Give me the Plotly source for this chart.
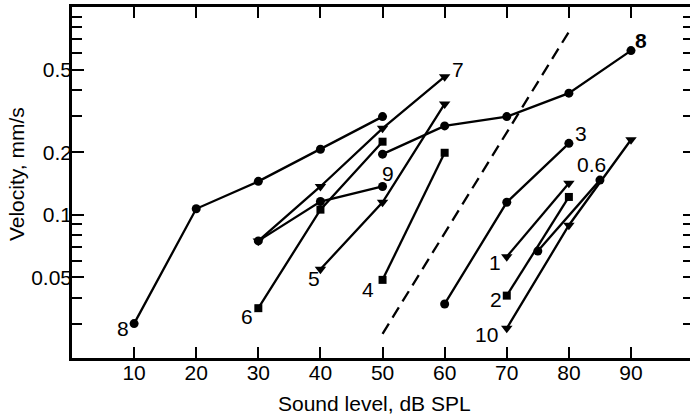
import math
import plotly.graph_objects as go

# ---- data ----
s8a_x = [10, 20, 30, 40, 50]
s8a_y = [0.030, 0.107, 0.145, 0.207, 0.297]
s7_x = [30, 40, 50, 60]
s7_y = [0.075, 0.137, 0.261, 0.462]
s9_x = [30, 40, 50]
s9_y = [0.075, 0.116, 0.137]
s6_x = [30, 40, 50]
s6_y = [0.0356, 0.106, 0.225]
s5_x = [40, 50, 60]
s5_y = [0.0548, 0.115, 0.342]
s4_x = [50, 60]
s4_y = [0.0487, 0.199]
s8b_x = [50, 60, 70, 80, 90]
s8b_y = [0.196, 0.268, 0.297, 0.385, 0.617]
s3_x = [60, 70, 80]
s3_y = [0.0373, 0.115, 0.221]
s1_x = [70, 80]
s1_y = [0.063, 0.142]
s2_x = [70, 80]
s2_y = [0.0409, 0.122]
s06_x = [75, 85]
s06_y = [0.0670, 0.147]
s10_x = [70, 80, 90]
s10_y = [0.0285, 0.0892, 0.23]
dash_x = [50, 80]
dash_y = [0.0268, 0.76]

x_ticks = [10, 20, 30, 40, 50, 60, 70, 80, 90]
y_ticks = [0.05, 0.1, 0.2, 0.5]
y_ticktext = ["0.05", "0.1", "0.2", "0.5"]
y_minor = [0.03, 0.04, 0.06, 0.07, 0.08, 0.09, 0.3, 0.4, 0.6, 0.7, 0.8, 0.9]

FONT = "Liberation Sans, Arial, Helvetica, sans-serif"
BLACK = "black"
FS = 21

series = [
    (s8a_x, s8a_y, "circle"),
    (s7_x, s7_y, "triangle-down"),
    (s9_x, s9_y, "circle"),
    (s6_x, s6_y, "square"),
    (s5_x, s5_y, "triangle-down"),
    (s4_x, s4_y, "square"),
    (s8b_x, s8b_y, "circle"),
    (s3_x, s3_y, "circle"),
    (s1_x, s1_y, "triangle-down"),
    (s2_x, s2_y, "square"),
    (s06_x, s06_y, "circle"),
    (s10_x, s10_y, "triangle-down"),
]

fig = go.Figure()
for xs, ys, sym in series:
    size = {"circle": 9, "square": 8, "triangle-down": 10}[sym]
    fig.add_trace(go.Scatter(
        x=xs, y=ys, mode="lines+markers",
        line=dict(color=BLACK, width=2.3),
        marker=dict(symbol=sym, size=size, color=BLACK, line=dict(width=0)),
        showlegend=False, hoverinfo="skip"))

fig.add_trace(go.Scatter(
    x=dash_x, y=dash_y, mode="lines",
    line=dict(color=BLACK, width=2.3, dash="12px,7px"),
    showlegend=False, hoverinfo="skip"))

# helper axes: right-hand tick marks, and tick labels placed close to the axes
fig.add_trace(go.Scatter(x=[None], y=[None], yaxis="y2", showlegend=False))
fig.add_trace(go.Scatter(x=[None], y=[None], yaxis="y3", showlegend=False))
fig.add_trace(go.Scatter(x=[None], y=[None], xaxis="x2", showlegend=False))

labels = [
    ("8", 8.2, 0.0283, False),
    ("6", 28.1, 0.0324, False),
    ("5", 38.9, 0.0497, False),
    ("4", 47.7, 0.044, False),
    ("9", 50.9, 0.158, False),
    ("7", 62.1, 0.50, False),
    ("1", 68.1, 0.059, False),
    ("2", 68.3, 0.039, False),
    ("10", 66.8, 0.0265, False),
    ("3", 81.9, 0.247, False),
    ("0.6", 83.7, 0.174, False),
    ("8", 91.6, 0.693, True),
]
annotations = []
for txt, lx, ly, bold in labels:
    annotations.append(dict(
        x=lx, y=math.log10(ly), xref="x", yref="y",
        text=f"<b>{txt}</b>" if bold else txt, showarrow=False,
        font=dict(family=FONT, size=FS, color=BLACK),
        xanchor="center", yanchor="middle"))

annotations.append(dict(
    x=-0.0906, y=0.524, xref="paper", yref="paper",
    text="Velocity, mm/s", textangle=-90, showarrow=False,
    font=dict(family=FONT, size=FS, color=BLACK),
    xanchor="center", yanchor="middle"))
annotations.append(dict(
    x=0.490, y=-0.131, xref="paper", yref="paper",
    text="Sound level, dB SPL", showarrow=False,
    font=dict(family=FONT, size=FS, color=BLACK),
    xanchor="center", yanchor="middle"))

yrange = [math.log10(0.0205), 0.0]
xrange_ = [0, 99.5]

fig.update_layout(
    width=690, height=418,
    margin=dict(l=72, r=0, t=7, b=60),
    paper_bgcolor="white", plot_bgcolor="white",
    font=dict(family=FONT, size=FS, color=BLACK),
    annotations=annotations,
    xaxis=dict(
        range=xrange_, tickvals=x_ticks, showticklabels=False,
        ticks="inside", ticklen=11, tickwidth=2, tickcolor=BLACK,
        showline=True, linewidth=2.5, linecolor=BLACK, mirror="ticks",
        showgrid=False, zeroline=False),
    xaxis2=dict(
        range=xrange_, overlaying="x", anchor="free", position=0.0,
        side="bottom", tickvals=x_ticks, ticks="", showline=False,
        showgrid=False, zeroline=False,
        tickfont=dict(family=FONT, size=FS, color=BLACK)),
    yaxis=dict(
        type="log", range=yrange,
        tickvals=y_ticks, showticklabels=False,
        ticks="inside", ticklen=12, tickwidth=2, tickcolor=BLACK,
        minor=dict(tickvals=y_minor, ticks="inside", ticklen=10,
                   tickwidth=2, tickcolor=BLACK, showgrid=False),
        showline=True, linewidth=2.5, linecolor=BLACK, mirror=False,
        showgrid=False, zeroline=False),
    yaxis3=dict(
        type="log", range=yrange, overlaying="y", anchor="free",
        position=0.0, side="left", ticksuffix="\u00a0",
        tickvals=y_ticks, ticktext=y_ticktext, ticks="", showline=False,
        showgrid=False, zeroline=False,
        tickfont=dict(family=FONT, size=FS, color=BLACK)),
    yaxis2=dict(
        type="log", range=yrange, overlaying="y", side="right",
        tickvals=y_ticks + y_minor, showticklabels=False,
        ticks="inside", ticklen=7, tickwidth=2, tickcolor=BLACK,
        showline=False, showgrid=False, zeroline=False),
)

fig.write_html("out.html")
